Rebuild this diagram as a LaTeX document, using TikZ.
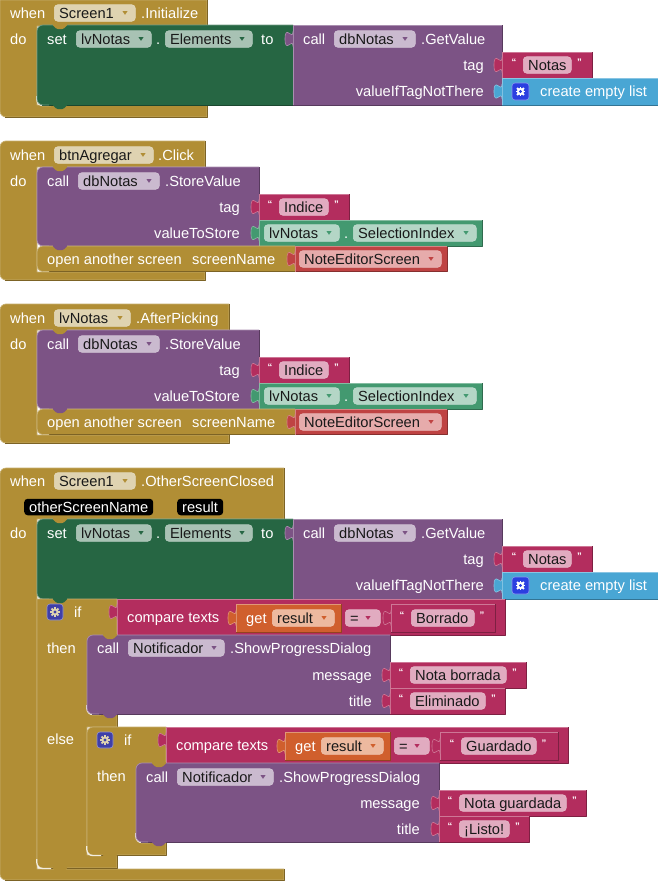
\documentclass[tikz,border=0pt]{standalone}
\usepackage{fontspec}
\setmainfont{Liberation Sans}
\definecolor{gold}{HTML}{B18E35}
\definecolor{setgreen}{HTML}{266643}
\definecolor{procpurple}{HTML}{7C5385}
\definecolor{crim}{HTML}{B32D5E}
\definecolor{listblue}{HTML}{49A6D4}
\definecolor{teal1}{HTML}{439970}
\definecolor{redb}{HTML}{BF4343}
\definecolor{orangeb}{HTML}{D05F2D}
\definecolor{fgold}{HTML}{DFD3B1}
\definecolor{fgreen}{HTML}{A8C2B4}
\definecolor{fpurple}{HTML}{CABACF}
\definecolor{fcrim}{HTML}{E1ABC0}
\definecolor{fteal}{HTML}{B4D6C6}
\definecolor{fred}{HTML}{E6ABAB}
\definecolor{forange}{HTML}{EDB99F}
\definecolor{gearblue}{HTML}{2B3FE0}
\definecolor{gearind}{HTML}{3F3FA8}
\newcounter{nd}
\tikzset{
  txt/.style={font=\fontsize{14.67}{16}\selectfont,inner sep=0pt},
  wlab/.style={txt,text=white},
  klab/.style={txt,text=black!90},
  pillbox/.style={rounded corners=3.5pt,inner sep=0pt,minimum height=16.5pt,anchor=west},
  qmark/.style={font=\fontsize{9.5}{10}\selectfont\bfseries,text=white,inner sep=0pt,anchor=base}
}
% white label: x, centre y, text
\newcommand{\lbw}[3]{\stepcounter{nd}\node[wlab,anchor=base west,name=n\arabic{nd}] at (#1,{#2+5}) {#3};}
\newcommand{\lbe}[3]{\stepcounter{nd}\node[wlab,anchor=base east,name=n\arabic{nd}] at (#1,{#2+5}) {#3};}
% field: x1,x2,cy,fill,arrowcol(or none),text
\newcommand{\fld}[6]{%
  \pgfmathsetmacro\fldw{#2-#1}%
  \stepcounter{nd}\node[pillbox,fill=#4,draw=#4!85!white,line width=.6pt,minimum width=\fldw pt,name=n\arabic{nd}] at (#1,#3) {};
  \stepcounter{nd}\node[klab,anchor=base west,name=n\arabic{nd}] at ({#1+5},{#3+5}) {#6};
}
\newcommand{\fldA}[6]{\fld{#1}{#2}{#3}{#4}{#5}{#6}
  \fill[#5] ({#2-12.5},{#3-1.8}) -- ({#2-7.5},{#3-1.8}) -- ({#2-10},{#3+1.8}) -- cycle;}
% rectangular block
\newcommand{\rblock}[5]{%
  \fill[#5] (#1,#2) rectangle (#3,#4);
  \draw[#5!70!black,line width=.7pt] (#1,#4) -- (#3,#4) -- (#3,#2);
  \draw[#5!65!white,line width=.7pt] (#1,#4) -- (#1,#2) -- (#3,#2);}
% puzzle tab: x, cy, colour
\newcommand{\ptab}[3]{%
  \fill[#3] (#1,{#2-7.5}) .. controls (#1,{#2+2.5}) and ({#1-8},{#2-15.5}) .. ({#1-8},{#2}) .. controls ({#1-8},{#2+15.5}) and (#1,{#2-2.5}) .. (#1,{#2+7.5}) -- cycle;
  \draw[#3!65!white,line width=.6pt] (#1,{#2-7.5}) .. controls (#1,{#2+2.5}) and ({#1-8},{#2-15.5}) .. ({#1-8},{#2}) .. controls ({#1-8},{#2+15.5}) and (#1,{#2-2.5}) .. (#1,{#2+7.5});}
\newcommand{\vblock}[6]{\rblock{#1}{#2}{#3}{#4}{#6}\ptab{#1}{#5}{#6}}
% statement block with rounded left corners
\newcommand{\sblock}[5]{%
  \fill[#5] (#3,#2) [rounded corners=6pt] -- (#1,#2) -- (#1,#4) [sharp corners] -- (#3,#4) -- cycle;
  \draw[#5!70!black,line width=.7pt] ({#1+5},#4) -- (#3,#4) -- (#3,#2);
  \draw[#5!65!white,line width=.7pt] (#3,#2) [rounded corners=6pt] -- (#1,#2) -- (#1,#4) -- ({#1+12},#4);}
% pale inner corner of the enclosing block, below left of a statement: x, y
\newcommand{\palecorner}[2]{%
  \draw[white!85!gold,line width=1.2pt,rounded corners=6pt] ({#1-.2},{#2-9}) -- ({#1-.2},{#2+.6}) -- ({#1+14},{#2+.6});}
% downward tab: left of owner block x, y, colour
\newcommand{\tabd}[3]{%
  \fill[#3,rounded corners=1.2pt] ({#1+15},{#2-.8}) -- ({#1+19.5},{#2+4}) -- ({#1+26.5},{#2+4}) -- ({#1+31},{#2-.8}) -- cycle;}
% polygon for hats and if blocks
\newcommand{\poly}[2]{\fill[gold] #2; \draw[gold!72!white,line width=.7pt] #2;}
% dark edges of a hat: right x, header top, header bottom, footer top, bottom
\newcommand{\hatdark}[6]{%
  \draw[gold!70!black,line width=.7pt] (#2,#3) -- (#2,#4);
  \draw[gold!70!black,line width=.7pt] (#2,#5) -- (#2,#6) -- ({#1+5},#6);}
% gear: box x1,y1,size, box colour, gear colour
\newcommand{\gearbox}[5]{%
  \fill[#4,rounded corners=3pt] (#1,#2) rectangle ({#1+#3},{#2+#3});
  \draw[#4!55!white,rounded corners=3pt,line width=.6pt] (#1,#2) rectangle ({#1+#3},{#2+#3});
  \foreach \ga in {0,45,...,315}{\draw[#5,line width=1.9pt] ({#1+#3/2},{#2+#3/2}) -- ({#1+#3/2+4.8*cos(\ga)},{#2+#3/2+4.8*sin(\ga)});}
  \fill[#5] ({#1+#3/2},{#2+#3/2}) circle (3.6pt);
  \fill[#4] ({#1+#3/2},{#2+#3/2}) circle (1.6pt);}
% string block: x1,y1,x2,y2,f1,f2,text
\newcommand{\strv}[7]{%
  \pgfmathsetmacro\scy{(#2+#4)/2}%
  \vblock{#1}{#2}{#3}{#4}{\scy}{crim}
  \fld{#5}{#6}{\scy}{fcrim}{}{#7}
  \stepcounter{nd}\node[qmark,name=n\arabic{nd}] at ({#5-9},{\scy}) {“};
  \stepcounter{nd}\node[qmark,name=n\arabic{nd}] at ({#6+8.5},{\scy}) {”};
}
% set lvNotas.Elements to dbNotas.GetValue
\newcommand{\setbody}{%
  \sblock{37}{25}{293}{105}{setgreen}
  \lbw{47}{39}{set}
  \fldA{76}{151}{39}{fgreen}{setgreen}{lvNotas}
  \lbw{156}{39}{.}
  \fldA{165}{252}{39}{fgreen}{setgreen}{Elements}
  \lbw{261}{39}{to}
  \vblock{293}{25}{502}{105}{39}{procpurple}
  \lbw{303}{39}{call}
  \fldA{334}{415}{39}{fpurple}{procpurple}{dbNotas}
  \lbw{421}{39}{.GetValue}
  \lbe{484}{65}{tag}
  \lbe{484}{91}{valueIfTagNotThere}
  \strv{502}{52}{592}{78}{523}{571}{Notas}
  \vblock{502}{78}{658}{105}{91.5}{listblue}
  \gearbox{512}{83}{17}{gearblue}{white}
  \lbw{540}{91}{create empty list}
}
% dbNotas.StoreValue + open another screen (coordinates of the first copy)
\newcommand{\storebody}{%
  \sblock{37}{167}{259}{246}{procpurple}
  \lbw{47}{181}{call}
  \fldA{78}{159}{181}{fpurple}{procpurple}{dbNotas}
  \lbw{165}{181}{.StoreValue}
  \lbe{240}{207}{tag}
  \lbe{240}{233}{valueToStore}
  \strv{259}{194}{349}{220}{279}{328}{Indice}
  \vblock{259}{220}{482}{246}{233}{teal1}
  \fldA{264}{339}{233}{fteal}{teal1}{lvNotas}
  \lbw{344}{233}{.}
  \fldA{353}{476}{233}{fteal}{teal1}{SelectionIndex}
  \sblock{37}{246}{295}{271.5}{gold}
  \tabd{37}{246}{procpurple}
  \lbw{47}{259}{open another screen}
  \lbw{192}{259}{screenName}
  \vblock{295}{246.5}{447}{271.5}{259}{redb}
  \fldA{299}{441}{259}{fred}{redb}{NoteEditorScreen}
}
% compare texts row
\newcommand{\comparebody}[5]{%
  \vblock{166}{727}{#1}{763}{740}{crim}
  \lbw{176}{745}{compare texts}
  \vblock{285}{732}{390}{760}{746}{orangeb}
  \lbw{295}{746}{get}
  \fldA{321}{383}{746}{forange}{orangeb}{result}
  \fld{394}{429}{746}{fcrim}{}{=}
  \fill[crim] (414.5,744.2) -- (419.5,744.2) -- (417,747.8) -- cycle;
  \rblock{440}{732}{#2}{760}{crim}
  \ptab{440}{746}{crim}
  \fld{#4}{#3}{746}{fcrim}{}{#5}
  \stepcounter{nd}\node[qmark,name=n\arabic{nd}] at ({#4-9},746) {“};
  \stepcounter{nd}\node[qmark,name=n\arabic{nd}] at ({#3+8},746) {”};
}
\begin{document}
\begin{tikzpicture}[x=1pt,y=-1pt,line join=round]
\useasboundingbox (0,0) rectangle (658,881);
\fill[white] (0,0) rectangle (658,881);

%% Block 1
\poly{gold}{(207,0) -- (0,0) [rounded corners=6pt] -- (0,117) [sharp corners] -- (207,117) -- (207,105) -- (37,105) -- (37,26) -- (207,26) -- cycle}
\hatdark{0}{207}{0}{26}{105}{117}
\lbw{10}{13}{when}
\fldA{54}{135}{13}{fgold}{gold}{Screen1}
\lbw{141}{13}{.Initialize}
\lbw{10}{39}{do}
\palecorner{37}{105}
\setbody
\tabd{37}{25}{gold}
\tabd{37}{105}{setgreen}

%% Block 2
\poly{gold}{(205,141) [rounded corners=6pt] -- (0,141) -- (0,280) [sharp corners] -- (205,280) -- (205,272) -- (37,272) -- (37,167) -- (205,167) -- cycle}
\hatdark{0}{205}{141}{167}{272}{280}
\lbw{10}{155}{when}
\fldA{54}{153}{155}{fgold}{gold}{btnAgregar}
\lbw{158}{155}{.Click}
\lbw{10}{181}{do}
\storebody
\tabd{37}{167}{gold}

%% Block 3
\poly{gold}{(229,304) [rounded corners=6pt] -- (0,304) -- (0,443) [sharp corners] -- (229,443) -- (229,435) -- (37,435) -- (37,330) -- (229,330) -- cycle}
\hatdark{0}{229}{304}{330}{435}{443}
\lbw{10}{318}{when}
\fldA{54}{130}{318}{fgold}{gold}{lvNotas}
\lbw{136}{318}{.AfterPicking}
\lbw{10}{344}{do}
\begin{scope}[shift={(0,163)}]
\storebody
\tabd{37}{167}{gold}
\end{scope}

%% Block 4
\poly{gold}{(284,468) [rounded corners=6pt] -- (0,468) -- (0,880) [sharp corners] -- (284,880) -- (284,869) -- (37,869) -- (37,519) -- (284,519) -- cycle}
\hatdark{0}{284}{468}{519}{869}{880}
\lbw{10}{481}{when}
\fldA{54}{135}{481}{fgold}{gold}{Screen1}
\lbw{141}{481}{.OtherScreenClosed}
\stepcounter{nd}\node[pillbox,fill=black,minimum width=129pt,name=n\arabic{nd}] at (24,507) {};
\lbw{29}{507}{otherScreenName}
\stepcounter{nd}\node[pillbox,fill=black,minimum width=46pt,name=n\arabic{nd}] at (177,507) {};
\lbw{182}{507}{result}
\lbw{10}{533}{do}
\begin{scope}[shift={(0,494)}]
\setbody
\tabd{37}{25}{gold}
\end{scope}

% outer if
\poly{gold}{(117,599) -- (37,599) [rounded corners=6pt] -- (37,868) [sharp corners] -- (117,868) -- (117,855) -- (87,855) -- (87,727) -- (117,727) -- cycle}
\hatdark{37}{117}{714}{727}{855}{868}
\tabd{37}{599}{setgreen}
\gearbox{47}{604}{16}{gearind}{fgold}
\lbw{74}{612}{if}
\lbw{47}{648}{then}
\lbw{47}{739}{else}
\begin{scope}[shift={(-49,-128)}]
\comparebody{554}{544}{523}{460}{Borrado}
\end{scope}
\palecorner{87}{714}
\sblock{87}{635}{390}{714}{procpurple}
\tabd{87}{635}{gold}
\lbw{97}{648}{call}
\fldA{128}{224}{648}{fpurple}{procpurple}{Notificador}
\lbw{230}{648}{.ShowProgressDialog}
\lbe{372}{675}{message}
\lbe{372}{701}{title}
\strv{390}{662}{526}{688}{410}{506}{Nota borrada}
\strv{390}{688}{505}{714}{410}{485}{Eliminado}

% inner if
\poly{gold}{(166,727) [rounded corners=6pt] -- (87,727) -- (87,855) [sharp corners] -- (166,855) -- cycle}
\hatdark{87}{166}{842}{842}{842}{855}
\tabd{87}{714}{procpurple}
\gearbox{97}{732}{16}{gearind}{fgold}
\lbw{124}{740}{if}
\lbw{97}{776}{then}
\comparebody{568}{558}{536}{461}{Guardado}
\palecorner{136}{842}
\sblock{136}{763}{439}{842}{procpurple}
\tabd{136}{763}{gold}
\lbw{146}{777}{call}
\fldA{177}{273}{777}{fpurple}{procpurple}{Notificador}
\lbw{279}{777}{.ShowProgressDialog}
\lbe{420}{803}{message}
\lbe{420}{829}{title}
\strv{439}{790}{586}{816}{459}{566}{Nota guardada}
\strv{439}{816}{529}{842}{459}{509}{¡Listo!}
\tabd{136}{842}{procpurple}
\palecorner{87}{855}
\tabd{87}{855}{gold}
\palecorner{37}{868}
\tabd{37}{868}{gold}
\end{tikzpicture}
\end{document}
